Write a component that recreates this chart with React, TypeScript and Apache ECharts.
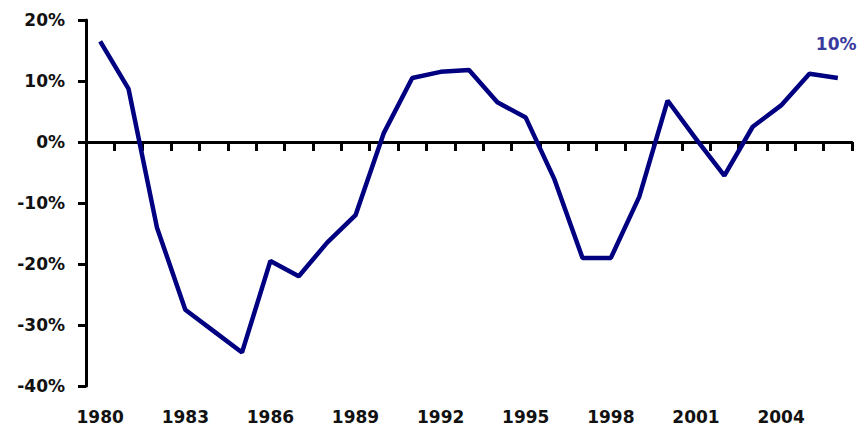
import React, { useEffect, useRef } from "react";
import * as echarts from "echarts";

const years = [
  "1980", "1981", "1982", "1983", "1984", "1985", "1986", "1987", "1988",
  "1989", "1990", "1991", "1992", "1993", "1994", "1995", "1996", "1997",
  "1998", "1999", "2000", "2001", "2002", "2003", "2004", "2005", "2006",
];
const values = [
  16.5, 8.7, -14, -27.5, -31, -34.5, -19.5, -22, -16.5,
  -12, 1.5, 10.5, 11.5, 11.8, 6.5, 4, -6, -19,
  -19, -9, 6.8, 0.5, -5.5, 2.5, 6, 11.2, 10.5,
];
const endLabelText = "10%";
const yMin = -40;
const yMax = 20;
const yStep = 10;

export default function App() {
  const ref = useRef<HTMLDivElement>(null);
  useEffect(() => {
    if (!ref.current) return;
    const chart = echarts.init(ref.current, null, { renderer: "svg" });
    const font = "DejaVu Sans";
    chart.setOption({
      animation: false,
      backgroundColor: "#ffffff",
      grid: { left: 86, right: 13, top: 20, bottom: 52, containLabel: false },
      xAxis: [
        {
          type: "category",
          data: years,
          position: "bottom",
          boundaryGap: true,
          axisLine: { show: false, onZero: false },
          axisTick: { show: false },
          splitLine: { show: false },
          axisLabel: {
            interval: 2,
            margin: 22,
            color: "#111",
            fontFamily: font,
            fontWeight: "bold",
            fontSize: 17,
          },
        },
        {
          type: "category",
          data: years,
          position: "bottom",
          boundaryGap: true,
          axisLine: { show: true, onZero: true, lineStyle: { color: "#000", width: 3 } },
          axisTick: { show: true, interval: 0, length: 9, inside: false, lineStyle: { color: "#000", width: 3 } },
          axisLabel: { show: false },
          splitLine: { show: false },
        },
      ],
      yAxis: {
        type: "value",
        min: yMin,
        max: yMax,
        interval: yStep,
        axisLine: { show: true, lineStyle: { color: "#000", width: 3 } },
        axisTick: { show: true, length: 8, lineStyle: { color: "#000", width: 3 } },
        splitLine: { show: false },
        axisLabel: {
          formatter: "{value}%",
          margin: 21,
          color: "#111",
          fontFamily: font,
          fontWeight: "bold",
          fontSize: 17,
        },
      },
      series: [
        {
          type: "line",
          xAxisIndex: 0,
          data: values,
          showSymbol: false,
          symbol: "none",
          smooth: false,
          lineStyle: { color: "#000080", width: 4.5 },
          itemStyle: { color: "#000080" },
          endLabel: {
            show: true,
            formatter: endLabelText,
            offset: [-30, -34],
            color: "#3a3a9e",
            fontFamily: font,
            fontWeight: "bold",
            fontSize: 17,
          },
        },
      ],
    });
    return () => chart.dispose();
  }, []);
  return <div ref={ref} style={{ width: 865, height: 438, margin: -8 }} />;
}
